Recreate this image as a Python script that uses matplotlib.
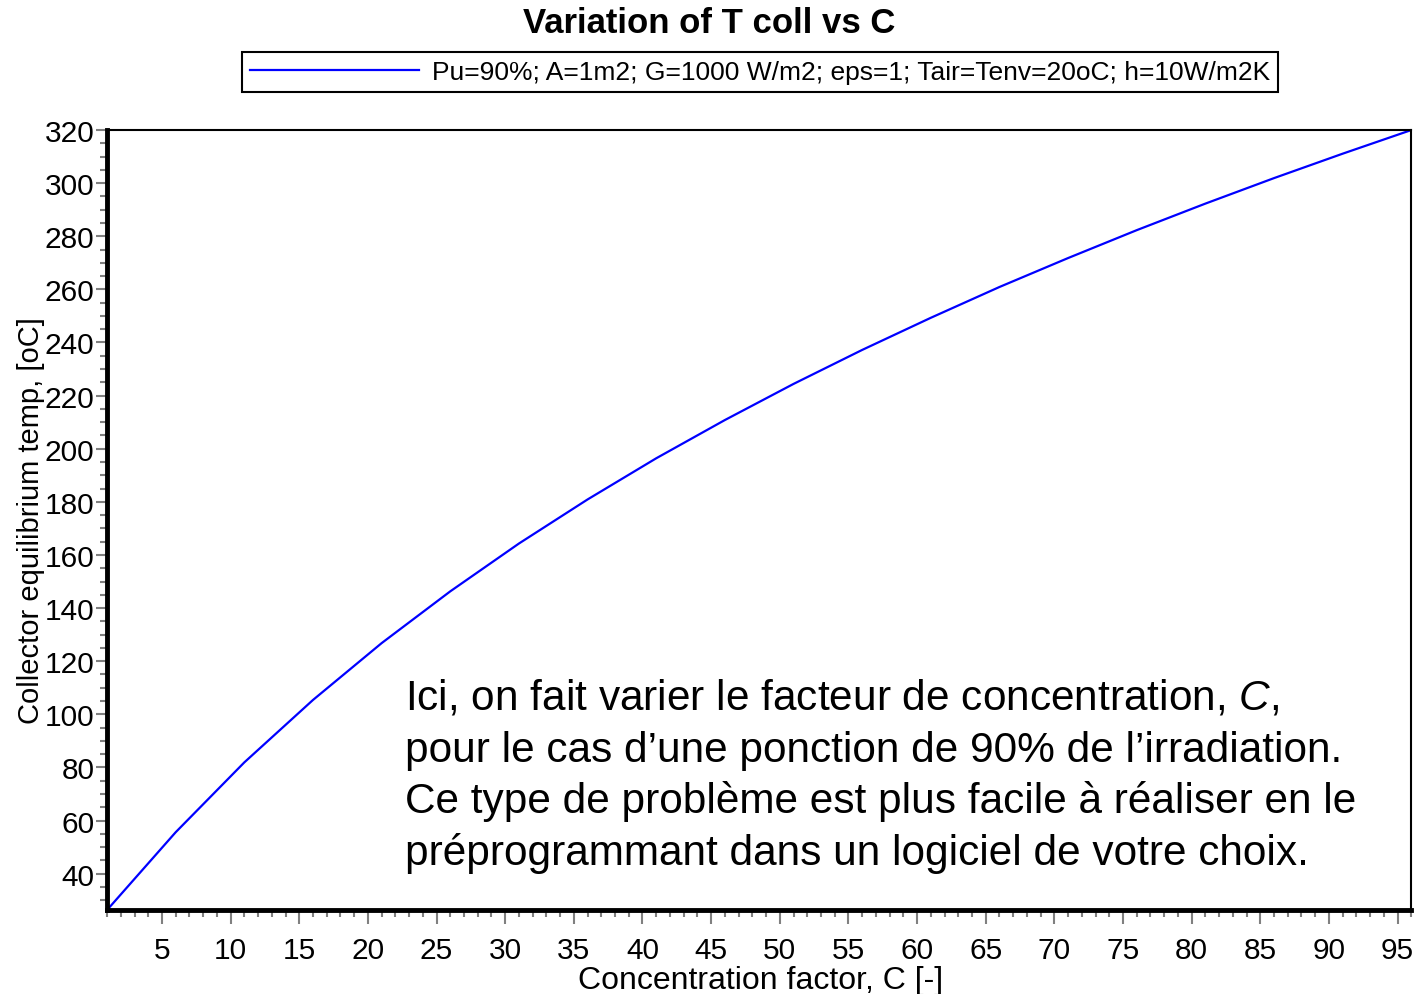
import matplotlib
matplotlib.use('Agg')
import matplotlib.pyplot as plt
from matplotlib.ticker import MultipleLocator

plt.rcParams['font.family'] = ['Liberation Sans', 'DejaVu Sans']
plt.rcParams['mathtext.fontset'] = 'custom'
plt.rcParams['mathtext.rm'] = 'Liberation Sans'
plt.rcParams['mathtext.it'] = 'Liberation Sans:italic'

#Data (points every 5 in C)
conc = [1, 6, 11, 16, 21, 26, 31, 36, 41, 46, 51, 56, 61, 66, 71, 76, 81, 86, 91, 96]
t_coll = [26.3, 55.6, 81.9, 105.4, 126.8, 146.3, 164.3, 180.9, 196.4, 210.8,
          224.4, 237.2, 249.3, 260.9, 271.8, 282.3, 292.3, 301.9, 311.1, 320.0]

series_label = 'Pu=90%; A=1m2; G=1000 W/m2; eps=1; Tair=Tenv=20oC; h=10W/m2K'
note_lines = ['Ici, on fait varier le facteur de concentration, $C$,',
              'pour le cas d’une ponction de 90% de l’irradiation.',
              'Ce type de problème est plus facile à réaliser en le',
              'préprogrammant dans un logiciel de votre choix.']

fig = plt.figure(figsize=(14.16, 9.95), dpi=100)
ax = fig.add_axes([0.0756, 0.0844, 0.9211, 0.7839])

line, = ax.plot(conc, t_coll, color='#0000ff', linewidth=1.6)

ax.set_xlim(1, 96)
ax.set_ylim(26.3, 320)
ax.xaxis.set_major_locator(MultipleLocator(5))
ax.xaxis.set_minor_locator(MultipleLocator(1))
ax.yaxis.set_major_locator(MultipleLocator(20))
ax.yaxis.set_minor_locator(MultipleLocator(5))

ax.tick_params(axis='both', which='major', direction='out', color='#808080',
               labelsize=21.5, width=1.5)
ax.tick_params(axis='x', which='major', length=10, pad=9)
ax.tick_params(axis='y', which='major', length=8, pad=1)
ax.tick_params(axis='both', which='minor', direction='out', color='#808080',
               length=5, width=1.5)

ax.spines['left'].set_linewidth(3.5)
ax.spines['bottom'].set_linewidth(3.5)
ax.spines['top'].set_linewidth(1.5)
ax.spines['right'].set_linewidth(1.5)

fig.text(0.501, 0.976, 'Variation of T coll vs C', ha='center', va='center',
         fontsize=25, fontweight='bold')

leg = fig.legend([line], [series_label], loc='center',
                 bbox_to_anchor=(0.537, 0.9266), fontsize=19,
                 handlelength=6.4, handletextpad=0.5, borderpad=0.3,
                 fancybox=False, framealpha=1, edgecolor='black')
leg.get_frame().set_linewidth(1.5)
leg.get_lines()[0].set_linewidth(1.6)

fig.text(0.022, 0.477, 'Collector equilibrium temp, [oC]', rotation=90,
         ha='center', va='center', fontsize=21)
fig.text(0.537, 0.014, 'Concentration factor, C [-]', ha='center',
         va='center', fontsize=23)

baselines = [710, 762, 813, 865]
for txt, yb in zip(note_lines, baselines):
    fig.text(405 / 1416, 1 - yb / 995, txt, ha='left', va='baseline',
             fontsize=30.5)

fig.savefig('out.png', dpi=100)
